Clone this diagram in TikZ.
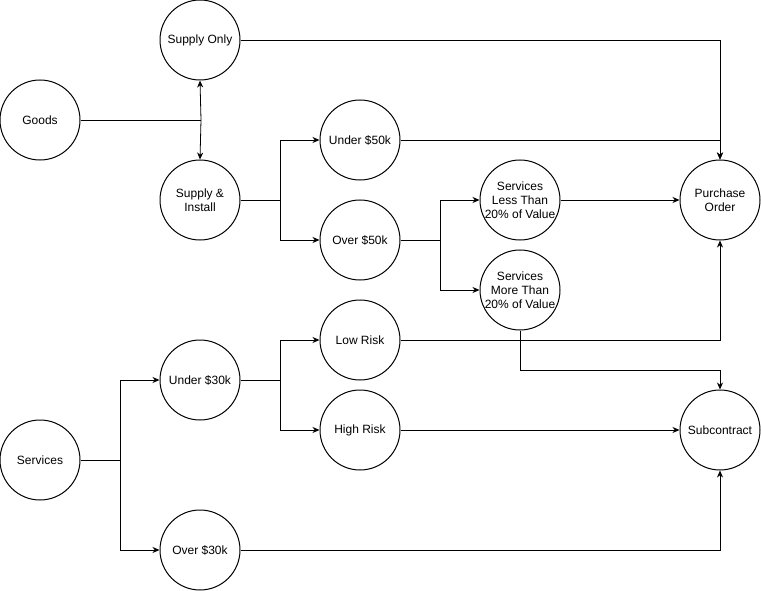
\documentclass[tikz,border=0pt]{standalone}
\usepackage{fontspec}
\setmainfont{Liberation Sans}
\usetikzlibrary{arrows.meta}
\begin{document}
\begin{tikzpicture}[x=1pt,y=-1pt,
  st/.style={circle,draw,line width=1pt,minimum size=80pt,inner sep=0pt,align=center,font=\fontsize{12}{14}\selectfont},
  ln/.style={line width=0.8pt},
  ar/.style={ln,-{Stealth[length=7pt,width=6pt]}}]
\useasboundingbox (0,0) rectangle (761,591);
\node[st] (goods) at (40,120) {Goods};
\node[st] (so) at (200,40) {Supply Only};
\node[st] (si) at (200,200) {Supply \&\\Install};
\node[st] (u50) at (360,140) {Under \$50k};
\node[st] (o50) at (360,240) {Over \$50k};
\node[st] (sl) at (520,200) {Services\\Less Than\\20\% of Value};
\node[st] (sm) at (520,290) {Services\\More Than\\20\% of Value};
\node[st] (po) at (720,200) {Purchase\\Order};
\node[st] (lr) at (360,340) {Low Risk};
\node[st] (hr) at (360,430) {High Risk};
\node[st] (u30) at (200,380) {Under \$30k};
\node[st] (sv) at (40,460) {Services};
\node[st] (o30) at (200,550) {Over \$30k};
\node[st] (sc) at (720,430) {Subcontract};
\coordinate (g1) at (201,120);
\draw[ln] (goods.east) -- (g1);
\draw[ar] (g1) -- (so.south);
\draw[ar] (g1) -- (si.north);
\draw[ar] (so.east) -| (po.north);
\draw[ar] (u50.east) -| (po.north);
\coordinate (a1) at (280,200);
\draw[ln] (si.east) -- (a1);
\draw[ar] (a1) |- (u50.west);
\draw[ar] (a1) |- (o50.west);
\coordinate (a2) at (440,240);
\draw[ln] (o50.east) -- (a2);
\draw[ar] (a2) |- (sl.west);
\draw[ar] (a2) |- (sm.west);
\draw[ar] (sl.east) -- (po.west);
\coordinate (a3) at (520,370);
\draw[ar] (sm.south) -- (a3) -| (sc.north);
\draw[ar] (lr.east) -| (po.south);
\coordinate (a4) at (280,380);
\draw[ln] (u30.east) -- (a4);
\draw[ar] (a4) |- (lr.west);
\draw[ar] (a4) |- (hr.west);
\draw[ar] (hr.east) -- (sc.west);
\coordinate (a5) at (120,460);
\draw[ln] (sv.east) -- (a5);
\draw[ar] (a5) |- (u30.west);
\draw[ar] (a5) |- (o30.west);
\draw[ar] (o30.east) -| (sc.south);
\end{tikzpicture}
\end{document}
